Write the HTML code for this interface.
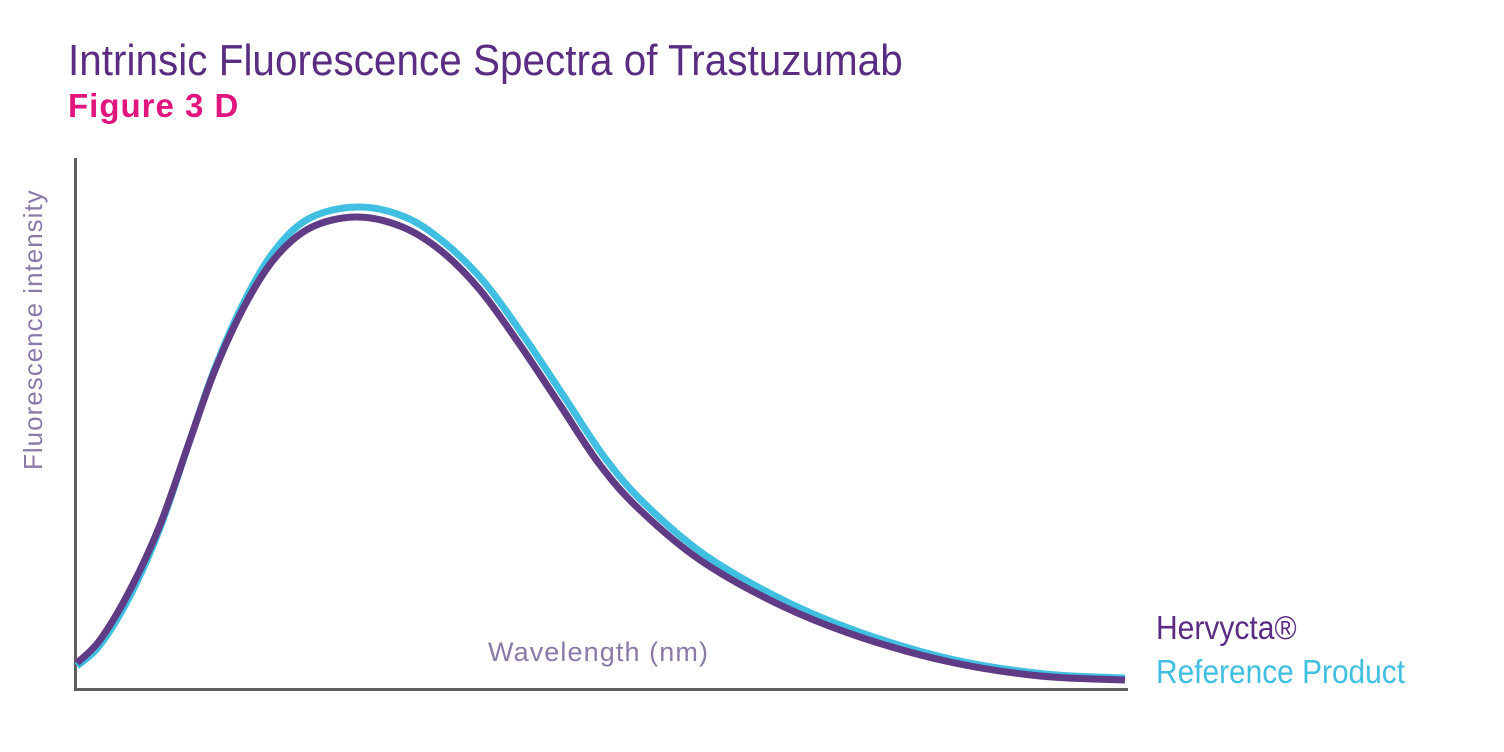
<!DOCTYPE html>
<html><head><meta charset="utf-8"><style>
html,body{margin:0;padding:0;background:#fff;width:1504px;height:752px;overflow:hidden;font-family:"Liberation Sans",sans-serif}
.t{position:absolute;white-space:nowrap;transform-origin:0 0}
</style></head><body>
<div class="t" style="left:68px;top:36px;font-size:44px;color:#5b2d82;transform:scaleX(0.92)">Intrinsic Fluorescence Spectra of Trastuzumab</div>
<div class="t" style="left:68px;top:87px;font-size:33px;font-weight:bold;letter-spacing:1px;color:#e0157e">Figure 3 D</div>
<div class="t" style="left:18px;top:470px;font-size:26px;letter-spacing:1px;color:#8a7aa8;transform:rotate(-90deg)">Fluorescence intensity</div>
<div class="t" style="left:488px;top:637px;font-size:27px;letter-spacing:1.1px;color:#8a7aa8">Wavelength (nm)</div>
<div class="t" style="left:1156px;top:609px;font-size:33px;color:#5b2d82;transform:scaleX(0.91)">Hervycta®</div>
<div class="t" style="left:1156px;top:653px;font-size:33px;color:#41bfe0;transform:scaleX(0.905)">Reference Product</div>
<svg width="1504" height="752" style="position:absolute;left:0;top:0">
<line x1="75.5" y1="158" x2="75.5" y2="691" stroke="#5f5f5f" stroke-width="3"/>
<line x1="74" y1="689.5" x2="1128" y2="689.5" stroke="#5f5f5f" stroke-width="3"/>
<path id="c" fill="none" stroke="#41bfe0" stroke-width="7"/>
<path id="p" fill="none" stroke="#5f3c85" stroke-width="7"/>
</svg>
<script>
function cr(pts){let d="M"+pts[0];for(let i=0;i<pts.length-1;i++){const p0=pts[i-1]||pts[i],p1=pts[i],p2=pts[i+1],p3=pts[i+2]||p2;
const c1=[p1[0]+(p2[0]-p0[0])/6,p1[1]+(p2[1]-p0[1])/6],c2=[p2[0]-(p3[0]-p1[0])/6,p2[1]-(p3[1]-p1[1])/6];
d+=" C"+c1+" "+c2+" "+p2;}return d;}
document.getElementById('p').setAttribute('d',cr([[77,663],[100,640],[130,590],[160,525],[190,440],[215,370],[245,305],[275,258],[310,228],[355,217],[400,226],[440,250],[480,290],[520,345],[560,405],[600,465],[640,510],[700,560],[780,605],[860,637],[950,662],[1040,676],[1125,680]]));
document.getElementById('c').setAttribute('d',cr([[77,666],[100,645],[130,596],[160,528],[190,440],[215,368],[245,300],[275,250],[310,218],[358,207],[405,217],[445,243],[485,283],[525,338],[565,398],[605,458],[645,504],[705,555],[785,601],[865,634],[955,660],[1045,674],[1125,678]]));
</script>
</body></html>
